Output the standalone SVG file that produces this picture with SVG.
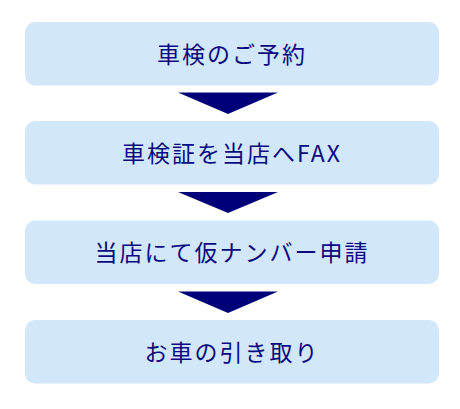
<svg xmlns="http://www.w3.org/2000/svg" width="460" height="409" viewBox="0 0 460 409">
<style>
.box{fill:#d3e7fb}
.lbl{font-family:"Noto Sans CJK JP","Noto Sans",sans-serif;font-size:23px;font-weight:400;fill:#0a0a80;text-anchor:middle;letter-spacing:2px}
.arr{fill:#000078}
</style>
<rect width="460" height="409" fill="#ffffff"/>
<g id="step1"><rect class="box" x="25" y="22" width="414" height="63.5" rx="10"/><text class="lbl" x="232" y="62.5">車検のご予約</text></g>
<g id="step2"><rect class="box" x="25" y="121" width="414" height="63.5" rx="10"/><text class="lbl" x="232" y="161.5">車検証を当店へFAX</text></g>
<g id="step3"><rect class="box" x="25" y="220.5" width="414" height="63.5" rx="10"/><text class="lbl" x="232" y="261">当店にて仮ナンバー申請</text></g>
<g id="step4"><rect class="box" x="25" y="320" width="414" height="63.5" rx="10"/><text class="lbl" x="232" y="360.5">お車の引き取り</text></g>
<g id="connectors">
<polygon class="arr" points="178,92.5 278,92.5 228,114"/>
<polygon class="arr" points="178,192 278,192 228,213"/>
<polygon class="arr" points="178,291.5 278,291.5 228,313"/>
</g>
</svg>
